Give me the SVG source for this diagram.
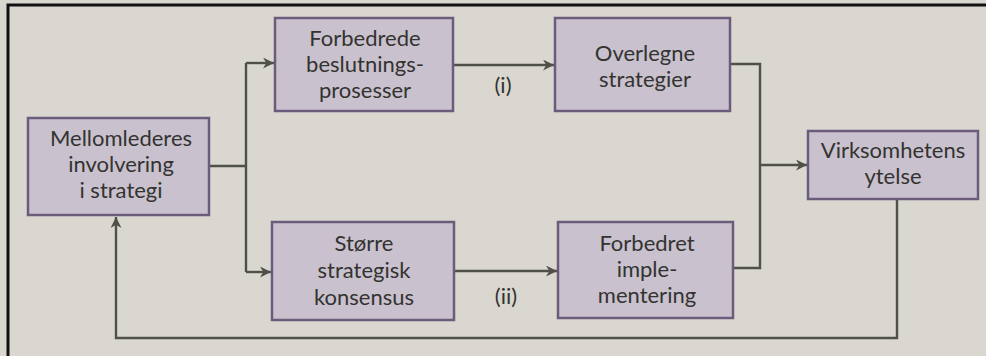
<svg xmlns="http://www.w3.org/2000/svg" width="986" height="356" viewBox="0 0 986 356">
<defs>
<marker id="ah" viewBox="0 0 10 10" refX="10" refY="5" markerWidth="12" markerHeight="11" markerUnits="userSpaceOnUse" orient="auto">
<path d="M0,0 L10,5 L0,10 L3,5 Z" fill="#50504a"/>
</marker>
</defs>
<style>
.box{fill:#c9c1cd;stroke:#6b5c7c;stroke-width:2.5}
.t{font-family:"Lato","Open Sans","Liberation Sans",sans-serif;font-size:22px;fill:#333331;text-anchor:middle}
.c{fill:none;stroke:#50504a;stroke-width:2.4}
</style>
<rect x="0" y="0" width="986" height="356" fill="#d9d7d0"/>
<path d="M8,356 V5 H986" fill="none" stroke="#111" stroke-width="3"/>
<g id="connectors">
<path class="c" d="M209,166 H246"/>
<path class="c" d="M246,63 V272"/>
<path class="c" d="M246,63 H274" marker-end="url(#ah)"/>
<path class="c" d="M246,272 H271" marker-end="url(#ah)"/>
<path class="c" d="M454,65 H554" marker-end="url(#ah)"/>
<path class="c" d="M455,271 H557" marker-end="url(#ah)"/>
<path class="c" d="M731,64 H760 V268 H734"/>
<path class="c" d="M760,165 H807" marker-end="url(#ah)"/>
<path class="c" d="M897,200 V338 H116 V217" marker-end="url(#ah)"/>
<text class="t" x="503" y="93">(i)</text>
<text class="t" x="506" y="304">(ii)</text>
</g>
<g id="mellomlederes">
<rect class="box" x="28" y="118" width="181" height="97"/>
<text class="t" x="121" y="146">Mellomlederes</text>
<text class="t" x="121" y="172">involvering</text>
<text class="t" x="121" y="198">i strategi</text>
</g>
<g id="forbedrede">
<rect class="box" x="275" y="18" width="178" height="93"/>
<text class="t" x="365" y="46">Forbedrede</text>
<text class="t" x="365" y="72">beslutnings-</text>
<text class="t" x="365" y="98">prosesser</text>
</g>
<g id="storre">
<rect class="box" x="272" y="222" width="182" height="98"/>
<text class="t" x="364" y="251">Større</text>
<text class="t" x="364" y="278">strategisk</text>
<text class="t" x="364" y="305">konsensus</text>
</g>
<g id="overlegne">
<rect class="box" x="555" y="18" width="175" height="93"/>
<text class="t" x="645" y="61">Overlegne</text>
<text class="t" x="645" y="87">strategier</text>
</g>
<g id="forbedret">
<rect class="box" x="558" y="222" width="175" height="96"/>
<text class="t" x="647" y="251">Forbedret</text>
<text class="t" x="647" y="277">imple-</text>
<text class="t" x="647" y="303">mentering</text>
</g>
<g id="virksomhetens">
<rect class="box" x="808" y="131" width="170" height="68"/>
<text class="t" x="893" y="158">Virksomhetens</text>
<text class="t" x="893" y="184">ytelse</text>
</g>
</svg>
